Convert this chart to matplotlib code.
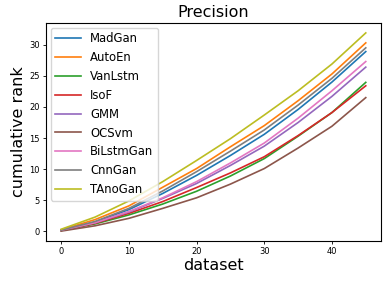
import matplotlib
matplotlib.use("Agg")
import matplotlib.pyplot as plt

# datos (rango acumulado cada 5 datasets)
x = [0, 5, 10, 15, 20, 25, 30, 35, 40, 45]

MadGan = [0.2, 1.5, 3.5, 6.1, 9.0, 12.2, 15.6, 19.6, 24.0, 28.9]
AutoEn = [0.25, 1.9, 4.1, 7.1, 10.1, 13.6, 17.0, 21.0, 25.3, 30.3]
VanLstm = [0.15, 1.2, 2.65, 4.4, 6.45, 8.9, 11.7, 15.3, 19.1, 23.95]
IsoF = [0.15, 1.3, 2.9, 4.8, 7.05, 9.4, 12.0, 15.4, 19.1, 23.4]
GMM = [0.2, 1.4, 3.1, 5.3, 7.7, 10.6, 13.7, 17.5, 21.7, 26.4]
OCSvm = [0.05, 0.9, 2.1, 3.7, 5.4, 7.6, 10.1, 13.4, 16.9, 21.5]
BiLstmGan = [0.2, 1.4, 3.2, 5.4, 8.0, 11.0, 14.2, 18.2, 22.6, 27.3]
CnnGan = [0.2, 1.6, 3.7, 6.5, 9.6, 12.9, 16.3, 20.3, 24.6, 29.5]
TAnoGan = [0.35, 2.3, 4.9, 8.0, 11.4, 14.9, 18.7, 22.6, 26.9, 31.9]

nombres = ["MadGan", "AutoEn", "VanLstm", "IsoF", "GMM", "OCSvm", "BiLstmGan", "CnnGan", "TAnoGan"]
series = [MadGan, AutoEn, VanLstm, IsoF, GMM, OCSvm, BiLstmGan, CnnGan, TAnoGan]

fig = plt.figure(figsize=(3.87, 2.85), dpi=100)
ax = fig.add_axes([46 / 387, 1 - 241 / 285, (381 - 46) / 387, (241 - 23) / 285])

for nombre, valores in zip(nombres, series):
    ax.plot(x, valores, label=nombre, linewidth=1.2)

ax.set_title("Precision", fontsize=11.5, pad=4)
ax.set_xlabel("dataset", fontsize=11.5, labelpad=1)
ax.set_ylabel("cumulative rank", fontsize=11.5, labelpad=2)
ax.set_xticks([0, 10, 20, 30, 40])
ax.set_yticks([0, 5, 10, 15, 20, 25, 30])
ax.tick_params(labelsize=6, length=2.5, width=0.6, pad=2)
for s in ax.spines.values():
    s.set_linewidth(0.8)
ax.legend(loc="upper left", fontsize=8.4, handlelength=2.2, labelspacing=0.5,
          borderaxespad=0.4)

fig.savefig("out.png", dpi=100)
